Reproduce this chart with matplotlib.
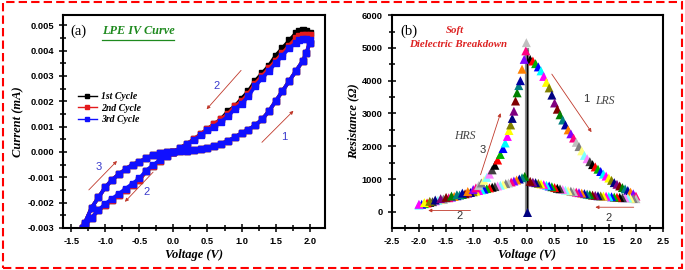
import numpy as np
import matplotlib
matplotlib.use("Agg")
import matplotlib.pyplot as plt
from matplotlib.ticker import MultipleLocator, FormatStrFormatter
from matplotlib.patches import Rectangle

# ---------------- panel (a): I-V cycles ----------------
v_fwd = [0.0, 0.1, 0.2, 0.3, 0.4, 0.5, 0.6, 0.7, 0.8, 0.9, 1.0, 1.1, 1.2, 1.3, 1.4,
         1.5, 1.6, 1.7, 1.8, 1.9, 1.95, 2.0]
i_fwd = [0.0, 0.00002, 0.00005, 0.00008, 0.00012, 0.00017, 0.00024, 0.00032, 0.00043,
         0.00057, 0.00074, 0.00088, 0.00105, 0.00128, 0.0016, 0.002, 0.0024, 0.0028,
         0.0032, 0.0036, 0.0039, 0.0043]

v_rev = [2.0, 1.95, 1.9, 1.85, 1.8, 1.7, 1.6, 1.5, 1.4, 1.3, 1.2, 1.1, 1.0, 0.9, 0.8,
         0.7, 0.6, 0.5, 0.4, 0.3, 0.2, 0.1, 0.0, -0.1, -0.2, -0.3, -0.4, -0.5, -0.6,
         -0.7, -0.8, -0.9, -1.0, -1.1, -1.2, -1.3, -1.33]
i_rev_c1 = [0.0047, 0.00478, 0.0048, 0.00478, 0.0047, 0.0044, 0.0041, 0.0038, 0.0034,
            0.0031, 0.0028, 0.0024, 0.0021, 0.0018, 0.0016, 0.0013, 0.0011, 0.0009,
            0.0007, 0.0005, 0.00032, 0.00016, 0.0, -0.00016, -0.00035, -0.00055,
            -0.00077, -0.0011, -0.0013, -0.0015, -0.0017, -0.0019, -0.0021, -0.0023,
            -0.0026, -0.0029, -0.003]
i_rev_c2 = [0.0046, 0.00462, 0.00462, 0.00458, 0.0045, 0.0042, 0.0039, 0.0036, 0.0033,
            0.003, 0.0027, 0.0023, 0.002, 0.0018, 0.0015, 0.0013, 0.0011, 0.0009,
            0.0007, 0.0005, 0.00031, 0.00015, 0.0, -0.00016, -0.00035, -0.00055,
            -0.00077, -0.0011, -0.0013, -0.0015, -0.0017, -0.0019, -0.0021, -0.0023,
            -0.0026, -0.0029, -0.003]
i_rev_c3 = [0.0044, 0.00445, 0.00445, 0.0044, 0.0043, 0.0041, 0.0038, 0.0035, 0.0032,
            0.0029, 0.0026, 0.0022, 0.0019, 0.0017, 0.0014, 0.0012, 0.001, 0.00085,
            0.00065, 0.00047, 0.0003, 0.00014, 0.0, -0.00015, -0.00033, -0.00052,
            -0.00074, -0.00105, -0.00125, -0.00145, -0.00165, -0.00185, -0.00205,
            -0.0023, -0.0026, -0.0029, -0.003]

v_ret = [-1.33, -1.3, -1.2, -1.1, -1.0, -0.9, -0.8, -0.7, -0.6, -0.5, -0.4, -0.3, -0.2,
         -0.1, 0.0]
i_ret = [-0.003, -0.0028, -0.0022, -0.0018, -0.0014, -0.0011, -0.00088, -0.00068,
         -0.0005, -0.0004, -0.00025, -0.00013, -0.00005, -0.00002, 0.0]

cycle_labels = ["1st Cycle", "2nd Cycle", "3rd Cycle"]
cycle_colors = ["black", "#e41a1c", "#1010ff"]

# ---------------- panel (b): resistance ----------------
lrs_v = [0.05, 0.1, 0.15, 0.2, 0.25, 0.3, 0.35, 0.4, 0.45, 0.5, 0.55, 0.6, 0.65, 0.7,
         0.75, 0.8, 0.85, 0.9, 0.95, 1.0, 1.05, 1.1, 1.15, 1.2, 1.25, 1.3, 1.35, 1.4,
         1.45, 1.5, 1.55, 1.6, 1.65, 1.7, 1.75, 1.8, 1.85, 1.9, 1.95, 2.0]
lrs_r = [4650, 4600, 4520, 4420, 4300, 4130, 3950, 3780, 3560, 3320, 3130, 2960, 2800,
         2650, 2500, 2380, 2250, 2120, 1990, 1860, 1720, 1620, 1530, 1440, 1370, 1300,
         1230, 1150, 1090, 1030, 960, 890, 840, 790, 740, 700, 650, 600, 550, 480]

low_r_v = [2.0, 1.95, 1.9, 1.85, 1.8, 1.75, 1.7, 1.65, 1.6, 1.55, 1.5, 1.45, 1.4, 1.35,
           1.3, 1.25, 1.2, 1.15, 1.1, 1.05, 1.0, 0.95, 0.9, 0.85, 0.8, 0.75, 0.7, 0.65,
           0.6, 0.55, 0.5, 0.45, 0.4, 0.35, 0.3, 0.25, 0.2, 0.15, 0.1, 0.05]
low_r_r = [400, 405, 410, 420, 425, 430, 440, 445, 450, 460, 470, 475, 480, 485, 490,
           500, 510, 525, 540, 555, 570, 585, 600, 615, 630, 645, 660, 680, 700, 720,
           740, 765, 790, 810, 830, 850, 870, 890, 905, 930]

low_l_v = [-0.05, -0.1, -0.15, -0.2, -0.25, -0.3, -0.35, -0.4, -0.45, -0.5, -0.55, -0.6,
           -0.65, -0.7, -0.75, -0.8, -0.85, -0.9, -0.95, -1.0, -1.05, -1.1, -1.15, -1.2,
           -1.25, -1.3, -1.35, -1.4, -1.45, -1.5, -1.55, -1.6, -1.65, -1.7, -1.75, -1.8,
           -1.85, -1.9, -1.95, -2.0]
low_l_r = [1080, 1040, 1000, 970, 940, 910, 880, 860, 830, 810, 790, 770, 750, 730, 710,
           690, 670, 650, 630, 610, 590, 570, 550, 530, 510, 490, 470, 450, 430, 410,
           390, 370, 350, 330, 310, 290, 270, 250, 230, 210]

hrs_v = [-2.0, -1.9, -1.8, -1.7, -1.6, -1.5, -1.4, -1.3, -1.2, -1.1, -1.0, -0.95, -0.9,
         -0.85, -0.8, -0.75, -0.7, -0.65, -0.6, -0.55, -0.5, -0.45, -0.41, -0.37, -0.34,
         -0.31, -0.28, -0.25, -0.22, -0.19, -0.16, -0.13, -0.1, -0.06, -0.03, -0.02]
hrs_r = [230, 280, 320, 360, 400, 440, 480, 520, 570, 620, 680, 730, 800, 880, 960, 1050,
         1150, 1280, 1420, 1580, 1750, 1930, 2100, 2300, 2480, 2650, 2850, 3070, 3380,
         3630, 3850, 4000, 4350, 4650, 4910, 5160]

jump_v = [0.0, 0.0]
jump_r = [0, 4950]

origin_palette = ["#000000", "#ff0000", "#00b000", "#0000ff", "#00ffff", "#ff00ff",
                  "#ffff00", "#808000", "#000080", "#800080", "#800000", "#008000",
                  "#008080", "#0000a0", "#ff8000", "#8000ff", "#ff0080", "#c0c0c0",
                  "#808080", "#ffff80", "#80ffff", "#ff80ff", "#404040"]

serif = ["Liberation Serif", "DejaVu Serif"]
sans = ["Liberation Sans", "DejaVu Sans"]

fig = plt.figure(figsize=(6.85, 2.70), dpi=100)
ax1 = fig.add_axes([0.092, 0.156, 0.382, 0.788])
ax2 = fig.add_axes([0.572, 0.156, 0.396, 0.788])


def style_axes(ax):
    for s in ax.spines.values():
        s.set_linewidth(1.5)
    ax.tick_params(which="both", direction="inout", top=False, right=False, width=1.1)
    ax.tick_params(which="major", length=6)
    ax.tick_params(which="minor", length=4)
    for lab in ax.get_xticklabels() + ax.get_yticklabels():
        lab.set_family(sans)
        lab.set_fontweight("bold")
        lab.set_fontsize(6.7)


# ---- panel (a)
rev_sets = [i_rev_c1, i_rev_c2, i_rev_c3]
for lab, col, irev in zip(cycle_labels, cycle_colors, rev_sets):
    vv = np.concatenate([v_fwd, v_rev, v_ret])
    ii = np.concatenate([i_fwd, irev, i_ret])
    ax1.plot(vv, ii, color=col, lw=2.6, marker="s", ms=4.6, label=lab)

ax1.set_xlim(-1.62, 2.22)
ax1.set_ylim(-0.003, 0.0054)
ax1.xaxis.set_major_locator(MultipleLocator(0.5))
ax1.xaxis.set_minor_locator(MultipleLocator(0.25))
ax1.yaxis.set_major_locator(MultipleLocator(0.001))
ax1.yaxis.set_minor_locator(MultipleLocator(0.0005))
ax1.xaxis.set_major_formatter(FormatStrFormatter("%.1f"))
ax1.yaxis.set_major_formatter(FormatStrFormatter("%.3f"))
style_axes(ax1)
ax1.set_xlabel("Voltage (V)", family=serif, style="italic", weight="bold", fontsize=9, labelpad=2)
ax1.set_ylabel("Current (mA)", family=serif, style="italic", weight="bold", fontsize=9, labelpad=2)

ax1.text(0.03, 0.925, "(a)", transform=ax1.transAxes, family=serif, fontsize=10.5,
         va="center")
ax1.text(0.15, 0.925, "LPE IV Curve", transform=ax1.transAxes, family=serif,
         style="italic", weight="bold", fontsize=8.8, color="#1e8a1e", va="center")
ax1.plot([0.15, 0.425], [0.885, 0.885], transform=ax1.transAxes, color="#1e8a1e", lw=0.9)

leg = ax1.legend(loc="upper left", bbox_to_anchor=(0.03, 0.67), frameon=False,
                 prop=dict(family=serif, style="italic", weight="bold", size=7),
                 handlelength=2.0, labelspacing=0.25, handletextpad=0.4, borderpad=0.2,
                 markerscale=0.7)
for h in leg.get_lines():
    h.set_linewidth(1.0)

arrow_kw = dict(arrowstyle="-|>", color="#c0392b", lw=0.6, mutation_scale=5)
num_a = dict(color="#3a3acc", fontsize=8, family=sans, ha="center", va="center")
ax1.annotate("", xy=(0.46, 0.0016), xytext=(1.02, 0.0033), arrowprops=arrow_kw)
ax1.text(0.64, 0.0026, "2", **num_a)
ax1.annotate("", xy=(1.79, 0.0017), xytext=(1.27, 0.0003), arrowprops=arrow_kw)
ax1.text(1.62, 0.0006, "1", **num_a)
ax1.annotate("", xy=(-0.80, -0.00028), xytext=(-1.27, -0.00158), arrowprops=arrow_kw)
ax1.text(-1.09, -0.0006, "3", **num_a)
ax1.annotate("", xy=(-0.74, -0.00205), xytext=(-0.27, -0.00072), arrowprops=arrow_kw)
ax1.text(-0.39, -0.0016, "2", **num_a)

# ---- panel (b)
ax2.plot(jump_v, jump_r, color="#8a8a8a", lw=3.0, zorder=2)
ax2.plot(jump_v, jump_r, color="black", lw=1.0, zorder=2)
k = 0
for bv, br in [(lrs_v, lrs_r), (low_r_v, low_r_r), (low_l_v, low_l_r), (hrs_v, hrs_r)]:
    cols = [origin_palette[(k + j) % len(origin_palette)] for j in range(len(bv))]
    k += len(bv)
    ax2.scatter(bv, br, c=cols, marker="^", s=42, linewidths=0, zorder=3)
ax2.scatter([0.0], [0], c="#000080", marker="^", s=42, linewidths=0, zorder=3)

ax2.set_xlim(-2.5, 2.5)
ax2.set_ylim(-490, 6000)
ax2.xaxis.set_major_locator(MultipleLocator(0.5))
ax2.xaxis.set_minor_locator(MultipleLocator(0.25))
ax2.yaxis.set_major_locator(MultipleLocator(1000))
ax2.yaxis.set_minor_locator(MultipleLocator(500))
ax2.xaxis.set_major_formatter(FormatStrFormatter("%.1f"))
style_axes(ax2)
ax2.set_xlabel("Voltage (V)", family=serif, style="italic", weight="bold", fontsize=9, labelpad=2)
ax2.set_ylabel("Resistance (Ω)", family=serif, style="italic", weight="bold", fontsize=9, labelpad=2)

ax2.text(0.03, 0.925, "(b)", transform=ax2.transAxes, family=serif, fontsize=10.5,
         va="center")
ax2.text(-1.33, 5520, "Soft", family=serif, style="italic", weight="bold", fontsize=7.8,
         color="#dd2222", ha="center", va="center")
ax2.text(-1.28, 5110, "Dielectric Breakdown", family=serif, style="italic",
         weight="bold", fontsize=7.8, color="#dd2222", ha="center", va="center")

num_b = dict(color="#333333", fontsize=8, family=sans, ha="center", va="center")
lab_b = dict(color="#444444", fontsize=8.5, family=serif, style="italic", ha="center",
             va="center")
ax2.annotate("", xy=(1.21, 2360), xytext=(0.42, 4270), arrowprops=arrow_kw)
ax2.text(1.08, 3450, "1", **num_b)
ax2.text(1.42, 3380, "LRS", **lab_b)
ax2.annotate("", xy=(-0.48, 3090), xytext=(-0.88, 1050), arrowprops=arrow_kw)
ax2.text(-0.83, 1900, "3", **num_b)
ax2.text(-1.16, 2300, "HRS", **lab_b)
ax2.annotate("", xy=(-1.88, 40), xytext=(-1.0, 40), arrowprops=arrow_kw)
ax2.text(-1.26, -120, "2", **num_b)
ax2.annotate("", xy=(1.2, 140), xytext=(2.01, 140), arrowprops=arrow_kw)
ax2.text(1.49, -190, "2", **num_b)

fig.patches.append(Rectangle((0.004, 0.008), 0.992, 0.984, transform=fig.transFigure,
                             fill=False, edgecolor="red", lw=1.5, ls=(0, (4, 2))))

fig.savefig("out.png", dpi=100)
